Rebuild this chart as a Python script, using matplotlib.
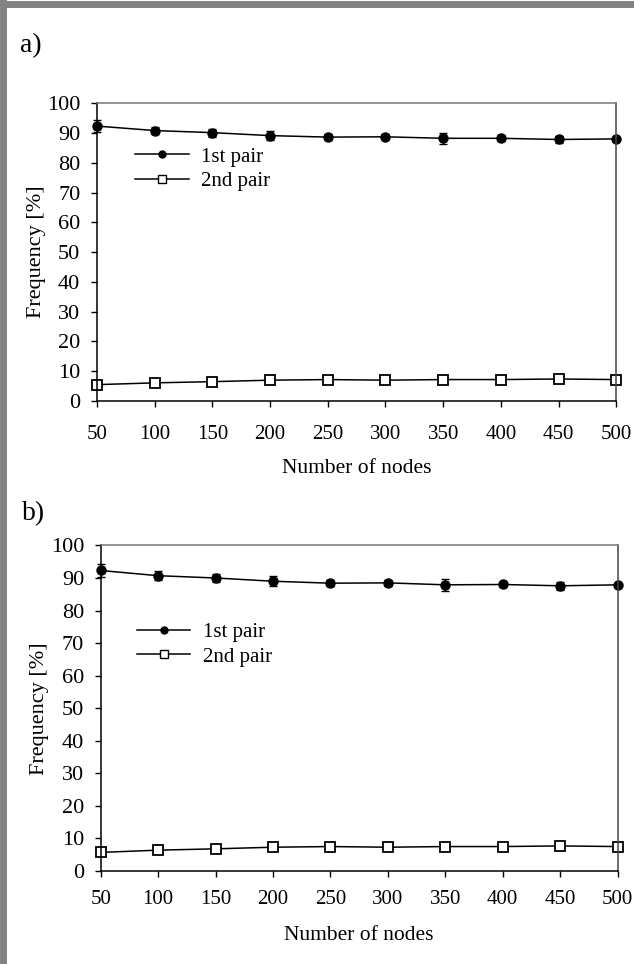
import numpy as np
import matplotlib.pyplot as plt
from matplotlib.lines import Line2D

plt.rcParams["font.family"] = ["Liberation Serif", "DejaVu Serif"]

nodes = [50, 100, 150, 200, 250, 300, 350, 400, 450, 500]

# panel a
a_first = [92.3, 90.8, 90.1, 89.1, 88.6, 88.7, 88.2, 88.2, 87.8, 88.0]
a_first_err = [1.9, 1.3, 1.3, 1.6, 1.0, 0.9, 1.9, 1.0, 1.3, 0.6]
a_second = [5.5, 6.1, 6.5, 7.0, 7.2, 7.0, 7.2, 7.2, 7.4, 7.2]
a_second_err = [1.0, 0.6, 0.6, 0.6, 0.6, 0.6, 0.6, 0.6, 0.6, 0.6]

# panel b
b_first = [92.3, 90.7, 90.0, 89.0, 88.4, 88.5, 87.9, 88.0, 87.6, 87.9]
b_first_err = [2.0, 1.3, 1.3, 1.6, 1.0, 0.9, 1.9, 0.9, 1.2, 0.5]
b_second = [5.7, 6.4, 6.8, 7.3, 7.5, 7.3, 7.5, 7.5, 7.7, 7.5]
b_second_err = [1.0, 0.6, 0.6, 0.6, 0.6, 0.6, 0.6, 0.6, 0.6, 0.6]

yticks = list(range(0, 101, 10))


def draw_panel(ax, first, first_err, second, second_err, leg_xy, xpad, lpad):
    ax.errorbar(nodes, first, yerr=first_err, color="black", lw=1.1,
                marker="o", ms=6.5, capsize=3, elinewidth=1.0, clip_on=False)
    ax.errorbar(nodes, second, yerr=second_err, color="black", lw=1.1,
                marker="s", ms=6.5, mfc="white", mew=1.3, capsize=3,
                elinewidth=1.0, clip_on=False)
    ax.set_xlim(50, 500)
    ax.set_ylim(0, 100)
    ax.set_xticks(nodes)
    ax.set_yticks(yticks)
    ax.tick_params(direction="out", length=4, width=1)
    ax.tick_params(axis="x", pad=xpad, labelsize=15)
    ax.tick_params(axis="y", pad=8, labelsize=16)
    ax.spines["top"].set_color("#777777")
    ax.spines["right"].set_color("#444444")
    for s in ax.spines.values():
        s.set_linewidth(1.1)
    ax.set_xlabel("Number of nodes", fontsize=15.5, labelpad=lpad)
    ax.set_ylabel("Frequency [%]", fontsize=16, labelpad=1)
    handles = [
        Line2D([], [], color="black", lw=1.1, marker="o", ms=5),
        Line2D([], [], color="black", lw=1.1, marker="s", ms=5.5,
               mfc="white", mew=1.0),
    ]
    ax.legend(handles, ["1st pair", "2nd pair"], loc="center left",
              bbox_to_anchor=leg_xy, frameon=False, fontsize=15,
              borderpad=0, handlelength=2.55, handletextpad=0.6,
              labelspacing=0.25)


fig = plt.figure(figsize=(6.34, 9.64), dpi=100)

ax1 = fig.add_axes([0.153, 0.584, 0.819, 0.309])
draw_panel(ax1, a_first, a_first_err, a_second, a_second_err,
           (0.054, 0.778), 13, 11)

ax2 = fig.add_axes([0.159, 0.0965, 0.815, 0.3377])
draw_panel(ax2, b_first, b_first_err, b_second, b_second_err,
           (0.05, 0.696), 10, 12)

fig.text(0.032, 0.953, "a)", fontsize=20, va="center")
fig.text(0.034, 0.467, "b)", fontsize=20, va="center")

# grey frame on top and left edge
fig.add_artist(Line2D([0.0055, 0.0055], [0, 1], color="#838383", lw=5,
                      transform=fig.transFigure))
fig.add_artist(Line2D([0, 1], [0.9962, 0.9962], color="#838383", lw=5,
                      transform=fig.transFigure))

fig.savefig("out.png", dpi=100)
